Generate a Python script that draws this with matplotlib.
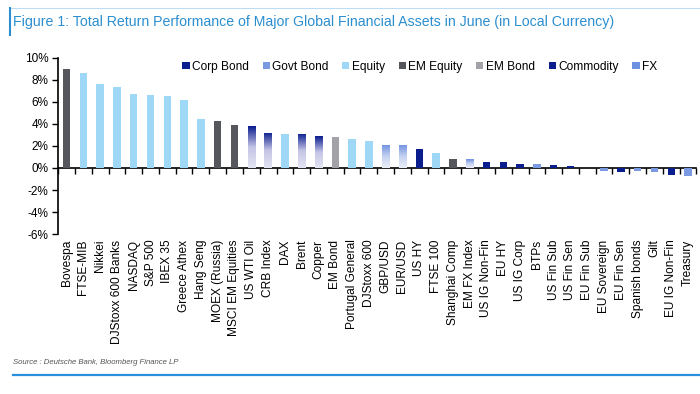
import numpy as np
import matplotlib
matplotlib.use("Agg")
import matplotlib.pyplot as plt
from matplotlib.colors import LinearSegmentedColormap
from matplotlib.patches import Patch
from matplotlib.lines import Line2D

plt.rcParams['font.family'] = ['Liberation Sans', 'DejaVu Sans']

assets = ['Bovespa', 'FTSE-MIB', 'Nikkei', 'DJStoxx 600 Banks', 'NASDAQ', 'S&P 500',
          'IBEX 35', 'Greece Athex', 'Hang Seng', 'MOEX (Russia)', 'MSCI EM Equities',
          'US WTI Oil', 'CRB Index', 'DAX', 'Brent', 'Copper', 'EM Bond',
          'Portugal General', 'DJStoxx 600', 'GBP/USD', 'EUR/USD', 'US HY', 'FTSE 100',
          'Shanghai Comp', 'EM FX Index', 'US IG Non-Fin', 'EU HY', 'US IG Corp', 'BTPs',
          'US Fin Sub', 'US Fin Sen', 'EU Fin Sub', 'EU Sovereign', 'EU Fin Sen',
          'Spanish bonds', 'Gilt', 'EU IG Non-Fin', 'Treasury']
returns = [9.0, 8.6, 7.6, 7.35, 6.7, 6.6, 6.5, 6.15, 4.45, 4.3, 3.9,
           3.8, 3.2, 3.1, 3.1, 2.9, 2.8, 2.6, 2.45, 2.1, 2.1, 1.7, 1.4,
           0.8, 0.8, 0.57, 0.5, 0.4, 0.4, 0.3, 0.15, -0.03, -0.3, -0.35,
           -0.3, -0.4, -0.6, -0.75]
asset_class = ['EM Equity', 'Equity', 'Equity', 'Equity', 'Equity', 'Equity',
               'Equity', 'Equity', 'Equity', 'EM Equity', 'EM Equity',
               'Commodity', 'Commodity', 'Equity', 'Commodity', 'Commodity', 'EM Bond',
               'Equity', 'Equity', 'FX', 'FX', 'Corp Bond', 'Equity',
               'EM Equity', 'FX', 'Corp Bond', 'Corp Bond', 'Corp Bond', 'Govt Bond',
               'Corp Bond', 'Corp Bond', 'Corp Bond', 'Govt Bond', 'Corp Bond',
               'Govt Bond', 'Govt Bond', 'Corp Bond', 'Govt Bond']
classes = ['Corp Bond', 'Govt Bond', 'Equity', 'EM Equity', 'EM Bond', 'Commodity', 'FX']
y_ticks = [-6, -4, -2, 0, 2, 4, 6, 8, 10]

colors = {'Corp Bond': '#0b1e8e', 'Govt Bond': '#7b9ae2', 'Equity': '#9fd8f6',
          'EM Equity': '#56575c', 'EM Bond': '#a2a2a8', 'Commodity': '#0b1e8e',
          'FX': '#6e90e0'}
gradients = {'Commodity': LinearSegmentedColormap.from_list('c', ['#e4e4f3', '#c4c4e6', '#0b1e8e']),
             'FX': LinearSegmentedColormap.from_list('f', ['#eceff9', '#c2d0f1', '#6e90e0'])}

fig = plt.figure(figsize=(7, 3.94), dpi=100)
ax = fig.add_axes([0.083, 0.406, 0.912, 0.447])

x = np.arange(len(assets))
w = 0.45
bars = ax.bar(x, returns, width=w, color=[colors[c] for c in asset_class], zorder=2)
grad = np.linspace(0, 1, 100).reshape(-1, 1)
for b, c, v in zip(bars, asset_class, returns):
    if c in gradients:
        b.set_facecolor('none')
        im = ax.imshow(grad, cmap=gradients[c], origin='lower', aspect='auto',
                       extent=[b.get_x(), b.get_x() + w, 0, v], zorder=2)
        im.set_clip_path(b)

ax.set_xlim(-0.5, len(assets) - 0.5)
ax.set_ylim(-6, 10)
ax.set_yticks(y_ticks)
ax.set_yticklabels([f'{t}%' for t in y_ticks], fontsize=8.5)
ax.tick_params(axis='y', length=4, width=1, direction='out', pad=3)
for s in ['top', 'right', 'bottom']:
    ax.spines[s].set_visible(False)
ax.spines['left'].set_linewidth(1.2)

ax.set_xticks(x)
ax.set_xticklabels(assets, rotation=90, fontsize=8.6)
ax.tick_params(axis='x', length=0, pad=4)

# zero line with ticks between categories
zero_frac = (0 - (-6)) / (10 - (-6))
sec = ax.secondary_xaxis(zero_frac)
sec.set_xticks(np.arange(len(assets) + 1) - 0.5)
sec.set_xticklabels([])
sec.tick_params(length=4, width=1, direction='out')
sec.spines['bottom'].set_linewidth(1.2)

handles = []
for c in classes:
    handles.append(Patch(facecolor=colors[c], edgecolor='none'))
leg = ax.legend(handles, classes, loc='upper right', bbox_to_anchor=(0.955, 1.045), ncol=7,
                frameon=False, fontsize=8.6, handlelength=0.6, handleheight=0.6,
                handletextpad=0.2, columnspacing=1.15)

fig.text(0.019, 0.945, 'Figure 1: Total Return Performance of Major Global Financial Assets in June (in Local Currency)',
         fontsize=10.2, color='#2a8ed0', va='center', ha='left')
fig.add_artist(Line2D([0.014, 1.0], [0.98, 0.98], color='#bcdcf2', lw=0.8))
fig.add_artist(Line2D([0.0145, 0.0145], [0.91, 0.98], color='#2a8ed0', lw=1.5))
fig.text(0.019, 0.079, 'Source : Deutsche Bank, Bloomberg Finance LP', fontsize=5.6,
         style='italic', color='#555555', va='center', ha='left')
fig.add_artist(Line2D([0.019, 1.0], [0.048, 0.048], color='#2a8fdc', lw=1.6))

fig.savefig('out.png', dpi=100)
